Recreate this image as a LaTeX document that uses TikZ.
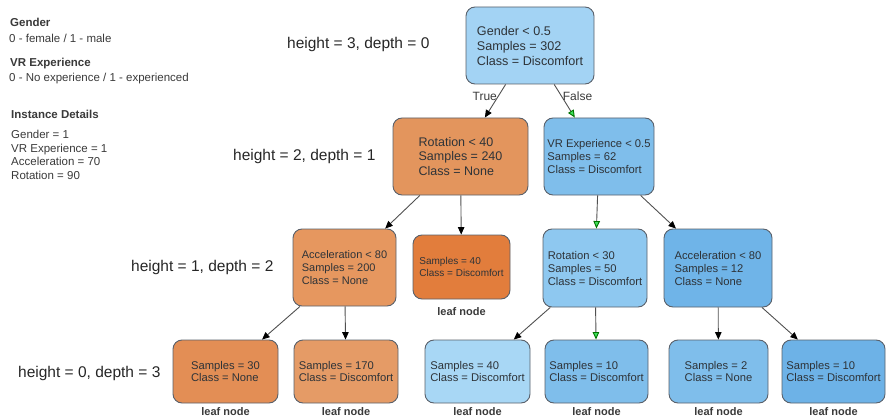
\documentclass[tikz,border=0pt]{standalone}
\usepackage{fontspec}
\setmainfont{Liberation Sans}
\usetikzlibrary{arrows.meta}

\definecolor{boxline}{HTML}{59606A}
\definecolor{edgeline}{HTML}{505050}
\definecolor{boxtext}{HTML}{2E3338}
\definecolor{legtext}{HTML}{3A3A3A}
\definecolor{arrowgreen}{HTML}{3EE05A}
\definecolor{blueA}{HTML}{A3D3F4}
\definecolor{blueB}{HTML}{7FBEEB}
\definecolor{blueC}{HTML}{8EC8F0}
\definecolor{blueD}{HTML}{6FB4E8}
\definecolor{blueE}{HTML}{A8D7F5}
\definecolor{blueF}{HTML}{6DB2E7}
\definecolor{orangeA}{HTML}{E3955D}
\definecolor{orangeB}{HTML}{E6975F}
\definecolor{orangeC}{HTML}{E27D3C}
\definecolor{orangeD}{HTML}{E38E55}
\definecolor{orangeE}{HTML}{E59B66}

\tikzset{
  treebox/.style={draw=boxline, line width=0.9pt, rounded corners=9pt, align=left,
    text=boxtext, inner sep=0pt, minimum height=77pt,
    font=\fontsize{11.2}{13}\selectfont},
  leafbox/.style={treebox, minimum height=63pt, font=\fontsize{11.2}{12.5}\selectfont,
    label={[leaflab]below:leaf node}},
  leaflab/.style={inner sep=0pt, yshift=-4pt, text=legtext,
    font=\bfseries\fontsize{11}{12}\selectfont},
  levellab/.style={anchor=west, inner sep=0pt, text=black!85,
    font=\fontsize{15.5}{18}\selectfont},
  legend/.style={anchor=west, inner sep=0pt, align=left, text=legtext,
    font=\fontsize{11.5}{13.5}\selectfont},
  link/.style={draw=edgeline, line width=0.9pt,
    -{Triangle[length=7.5pt, width=6.5pt, color=black]}},
  hit/.style={-{Triangle[length=7.5pt, width=6.5pt, color=green!45!black, fill=arrowgreen]}},
  branch/.style={inner sep=1pt, text=legtext, font=\fontsize{12}{14}\selectfont}
}

\begin{document}
\begin{tikzpicture}[x=1pt, y=-1pt]
  \useasboundingbox (0,0) rectangle (886,417);

  % legend
  \node[legend, font=\bfseries\fontsize{11.5}{13.5}\selectfont, name=lgGender] at (10,22) {Gender};
  \node[legend, name=lgGenderVal] at (9,38) {0 - female / 1 - male};
  \node[legend, font=\bfseries\fontsize{11.5}{13.5}\selectfont, name=lgVR] at (10,64) {VR Experience};
  \node[legend, name=lgVRVal] at (9,79) {0 - No experience / 1 - experienced};
  \node[legend, font=\bfseries\fontsize{11.5}{13.5}\selectfont, name=lgInst] at (11,114) {Instance Details};
  \node[legend, name=lgInstVal] at (11,155) {Gender = 1\\VR Experience = 1\\Acceleration = 70\\Rotation = 90};

  % levels
  \node[levellab, name=lev0] at (287,44) {height = 3, depth = 0};
  \node[levellab, name=lev1] at (233,156) {height = 2, depth = 1};
  \node[levellab, name=lev2] at (131,267) {height = 1, depth = 2};
  \node[levellab, name=lev3] at (18,373) {height = 0, depth = 3};

  % tree
  \node[treebox, fill=blueA, minimum width=128pt, name=root,
        font=\fontsize{12.6}{15}\selectfont] at (530,45.5)
        {Gender < 0.5\\Samples = 302\\Class = Discomfort};
  \node[treebox, fill=orangeA, minimum width=135pt, name=rot40,
        font=\fontsize{12.5}{14.5}\selectfont] at (460.5,156.5)
        {Rotation < 40\\Samples = 240\\Class = None};
  \node[treebox, fill=blueB, minimum width=110pt, name=vr05] at (599,156.5)
        {VR Experience < 0.5\\Samples = 62\\Class = Discomfort};
  \node[treebox, fill=orangeB, minimum width=103pt, name=acc80a,
        font=\fontsize{11}{13}\selectfont] at (344.5,267.5)
        {Acceleration < 80\\Samples = 200\\Class = None};
  \node[treebox, fill=orangeC, minimum width=97pt, minimum height=64pt, name=leaf40,
        font=\fontsize{10}{12}\selectfont,
        label={[leaflab, yshift=-4pt]below:leaf node}] at (461.5,267)
        {Samples = 40\\Class = Discomfort};
  \node[treebox, fill=blueC, minimum width=104pt, minimum height=78pt, name=rot30] at (595,268)
        {Rotation < 30\\Samples = 50\\Class = Discomfort};
  \node[treebox, fill=blueD, minimum width=108pt, minimum height=78pt, name=acc80b] at (718,268)
        {Acceleration < 80\\Samples = 12\\Class = None};

  \node[leafbox, fill=orangeD, minimum width=105pt, name=leaf30] at (225.5,371.5)
        {Samples = 30\\Class = None};
  \node[leafbox, fill=orangeE, minimum width=104pt, name=leaf170] at (346,371.5)
        {Samples = 170\\Class = Discomfort};
  \node[leafbox, fill=blueE, minimum width=105pt, name=leaf40b] at (477.5,371.5)
        {Samples = 40\\Class = Discomfort};
  \node[leafbox, fill=blueB, minimum width=103pt, name=leaf10a] at (596.5,371.5)
        {Samples = 10\\Class = Discomfort};
  \node[leafbox, fill=blueB, minimum width=99pt, name=leaf2] at (718.5,371.5)
        {Samples = 2\\Class = None};
  \node[leafbox, fill=blueF, minimum width=103pt, name=leaf10b] at (833.5,371.5)
        {Samples = 10\\Class = Discomfort};

  \path[link]
     (root) edge node[branch, pos=0.35, left] {True} (rot40)
     (root) edge[hit] node[branch, pos=0.35, right] {False} (vr05)
     (rot40) edge (acc80a)
     (rot40) edge (leaf40)
     (vr05) edge[hit] (rot30)
     (vr05) edge (acc80b)
     (acc80a) edge (leaf30)
     (acc80a) edge (leaf170)
     (rot30) edge (leaf40b)
     (rot30) edge[hit] (leaf10a)
     (acc80b) edge (leaf2)
     (acc80b) edge (leaf10b);
\end{tikzpicture}
\end{document}
